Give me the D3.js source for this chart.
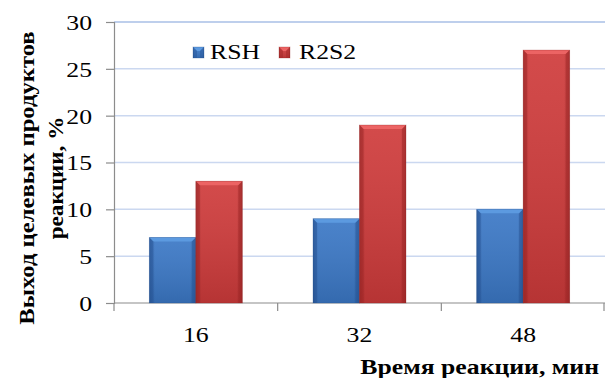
<!DOCTYPE html>
<html>
<head>
<meta charset="utf-8">
<script src="https://cdn.jsdelivr.net/npm/d3@7/dist/d3.min.js"></script>
</head>
<body style="margin:0">
<svg id="chart" width="605" height="378"></svg>
<script>
// Reaction time (min) and yield of target products (%)
const categories = ["16", "32", "48"];
const seriesNames = ["RSH", "R2S2"];
const rshValues = [7, 9, 10];
const r2s2Values = [13, 19, 27];
const yTicks = [0, 5, 10, 15, 20, 25, 30];

const FONT = "Liberation Serif";
const STRETCH = 1.17; // labels are set slightly wide
const svg = d3.select("#chart");

// widen a text horizontally while keeping its anchor point in place
function widen(sel, s) {
  sel.each(function () {
    const t = d3.select(this);
    const x0 = +t.attr("x") || 0;
    t.attr("x", x0 / s).attr("transform", `scale(${s},1)`);
  });
}

const x = d3.scaleBand().domain(categories).range([114, 605]).paddingInner(0).paddingOuter(0);
const inner = d3.scaleBand().domain(seriesNames).range([0, x.bandwidth()]).paddingInner(0).paddingOuter(0.76);
const y = d3.scaleLinear().domain([0, 30]).range([303, 22]);

const palette = {
  RSH:  { base: "#3b78c6", light: "#5c9ae0", dark: "#2a5a9c", edge: "#24508c" },
  R2S2: { base: "#cf3b3b", light: "#ec6464", dark: "#a52a2a", edge: "#8e2424" }
};

const defs = svg.append("defs");
seriesNames.forEach(name => {
  const c = palette[name];
  const g = defs.append("linearGradient").attr("id", "grad-" + name)
    .attr("x1", 0).attr("x2", 1).attr("y1", 0).attr("y2", 0);
  g.append("stop").attr("offset", 0).attr("stop-color", c.dark);
  g.append("stop").attr("offset", 0.12).attr("stop-color", c.base);
  g.append("stop").attr("offset", 0.88).attr("stop-color", c.base);
  g.append("stop").attr("offset", 1).attr("stop-color", c.dark);
  const v = defs.append("linearGradient").attr("id", "vgrad-" + name)
    .attr("x1", 0).attr("x2", 0).attr("y1", 0).attr("y2", 1);
  v.append("stop").attr("offset", 0).attr("stop-color", "#fff").attr("stop-opacity", 0.08);
  v.append("stop").attr("offset", 1).attr("stop-color", "#000").attr("stop-opacity", 0.12);
});

// Gridlines
svg.append("g").selectAll("line").data(yTicks.filter(d => d > 0)).join("line")
  .attr("x1", 114).attr("x2", 605)
  .attr("y1", d => y(d)).attr("y2", d => y(d))
  .attr("stroke", d => d === 30 ? "#a8bfe6" : "#cbd8f0").attr("stroke-width", 1.5);

// Y axis
const yAxis = svg.append("g").attr("transform", "translate(114,0)")
  .call(d3.axisLeft(y).tickValues(yTicks).tickSize(8).tickPadding(14).tickFormat(d3.format("d")));
yAxis.attr("font-family", FONT).attr("font-size", 22);
yAxis.select(".domain").attr("stroke", "#8c8c8c").attr("stroke-width", 1.2);
yAxis.selectAll(".tick line").attr("stroke", "#8c8c8c").attr("stroke-width", 1.2);
yAxis.selectAll(".tick text").attr("font-family", FONT).attr("dy", "0.34em").attr("fill", "#000");
widen(yAxis.selectAll(".tick text"), STRETCH);

// X axis baseline and group separators
const xAxisG = svg.append("g").attr("transform", "translate(0,303)");
xAxisG.append("line").attr("x1", 114).attr("x2", 605).attr("y1", 0).attr("y2", 0)
  .attr("stroke", "#8c8c8c").attr("stroke-width", 1.2);
const seps = categories.map(c => x(c)).concat([x(categories[categories.length - 1]) + x.bandwidth()]);
xAxisG.selectAll("line.sep").data(seps).join("line").attr("class", "sep")
  .attr("x1", d => Math.min(d, 604)).attr("x2", d => Math.min(d, 604))
  .attr("y1", 0).attr("y2", 8).attr("stroke", "#8c8c8c").attr("stroke-width", 1.2);
const xLabels = xAxisG.selectAll("text").data(categories).join("text")
  .attr("x", d => x(d) + x.bandwidth() / 2).attr("y", 39)
  .attr("text-anchor", "middle").attr("font-family", FONT).attr("font-size", 22).text(d => d);
widen(xLabels, STRETCH);

// Bars with bevelled look
const rows = [];
categories.forEach((c, i) => {
  rows.push({ cat: c, series: "RSH", value: rshValues[i] });
  rows.push({ cat: c, series: "R2S2", value: r2s2Values[i] });
});

function drawBevelBar(g, bx, by, bw, bh, name) {
  const c = palette[name];
  const b = Math.min(4, bh / 2);
  g.append("rect").attr("x", bx).attr("y", by).attr("width", bw).attr("height", bh)
    .attr("fill", `url(#grad-${name})`);
  g.append("rect").attr("x", bx).attr("y", by).attr("width", bw).attr("height", bh)
    .attr("fill", `url(#vgrad-${name})`);
  g.append("path")
    .attr("d", `M${bx},${by} L${bx + bw},${by} L${bx + bw - b},${by + b} L${bx + b},${by + b} Z`)
    .attr("fill", c.light);
  g.append("path")
    .attr("d", `M${bx},${by} L${bx + b},${by + b} L${bx + b},${by + bh} L${bx},${by + bh} Z`)
    .attr("fill", c.dark).attr("opacity", 0.55);
  g.append("path")
    .attr("d", `M${bx + bw},${by} L${bx + bw - b},${by + b} L${bx + bw - b},${by + bh} L${bx + bw},${by + bh} Z`)
    .attr("fill", c.dark).attr("opacity", 0.55);
  g.append("rect").attr("x", bx).attr("y", by).attr("width", bw).attr("height", bh)
    .attr("fill", "none").attr("stroke", c.edge).attr("stroke-opacity", 0.35).attr("stroke-width", 0.8);
}

const barsG = svg.append("g");
rows.forEach(r => {
  const bx = x(r.cat) + inner(r.series);
  const bw = inner.bandwidth();
  const by = y(r.value);
  const bh = y(0) - by;
  drawBevelBar(barsG.append("g"), bx, by, bw, bh, r.series);
});

// Legend
const legendItems = [
  { name: "RSH", sx: 193, tx: 210 },
  { name: "R2S2", sx: 279, tx: 299 }
];
const legend = svg.append("g");
legendItems.forEach(it => {
  drawBevelBar(legend.append("g"), it.sx, 47, 11, 11, it.name);
  const t = legend.append("text").attr("x", it.tx).attr("y", 59)
    .attr("font-family", FONT).attr("font-size", 22).text(it.name);
  widen(t, STRETCH);
});

// Axis titles
const xTitle = svg.append("text")
  .attr("x", 599).attr("y", 374).attr("text-anchor", "end")
  .attr("font-family", FONT).attr("font-size", 22).attr("font-weight", "bold")
  .text("Время реакции, мин");
widen(xTitle, STRETCH);

const yTitleLines = [
  { text: "Выход целевых продуктов", base: 34, s: 1.12 },
  { text: "реакции, %", base: 63, s: 1.05 }
];
svg.append("g").selectAll("text").data(yTitleLines).join("text")
  .attr("transform", d => `translate(${d.base},178) rotate(-90) scale(${d.s},1)`)
  .attr("x", 0).attr("y", 0)
  .attr("text-anchor", "middle")
  .attr("font-family", FONT).attr("font-size", 22).attr("font-weight", "bold")
  .text(d => d.text);
</script>
</body>
</html>
